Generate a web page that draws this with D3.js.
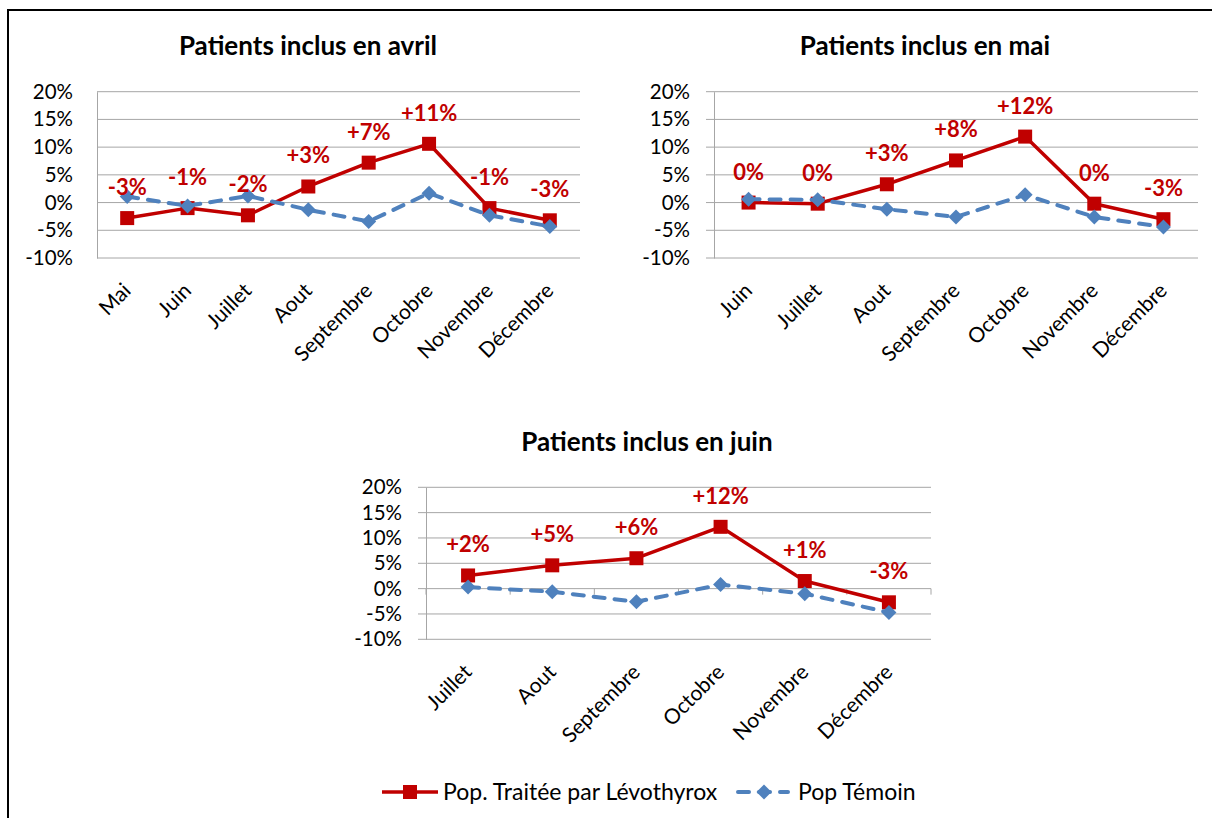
<!DOCTYPE html>
<html>
<head>
<meta charset="utf-8">
<title>Patients inclus</title>
<style>
  body { margin: 0; background: #fff; font-family: Lato, 'Open Sans', sans-serif; }
  .grid line { stroke: #a6a6a6; stroke-width: 1; }
  .tick text { fill: #000; }
</style>
</head>
<body>
<svg id="chart" width="1212" height="818"></svg>
<script src="https://d3js.org/d3.v7.min.js"></script>
<script>
// values in %
var catAvril = ["Mai", "Juin", "Juillet", "Aout", "Septembre", "Octobre", "Novembre", "Décembre"];
var traiteeAvril = [-2.8, -1.0, -2.3, 2.9, 7.2, 10.6, -1.0, -3.2];
var temoinAvril = [1.1, -0.6, 1.2, -1.3, -3.4, 1.7, -2.3, -4.3];
var labelsAvril = ["-3%", "-1%", "-2%", "+3%", "+7%", "+11%", "-1%", "-3%"];

var catMai = ["Juin", "Juillet", "Aout", "Septembre", "Octobre", "Novembre", "Décembre"];
var traiteeMai = [0.0, -0.2, 3.3, 7.6, 11.9, -0.2, -3.0];
var temoinMai = [0.6, 0.5, -1.2, -2.6, 1.4, -2.6, -4.4];
var labelsMai = ["0%", "0%", "+3%", "+8%", "+12%", "0%", "-3%"];

var catJuin = ["Juillet", "Aout", "Septembre", "Octobre", "Novembre", "Décembre"];
var traiteeJuin = [2.6, 4.6, 6.0, 12.2, 1.5, -2.7];
var temoinJuin = [0.3, -0.6, -2.6, 0.8, -1.0, -4.7];
var labelsJuin = ["+2%", "+5%", "+6%", "+12%", "+1%", "-3%"];

var yTicks = [-10, -5, 0, 5, 10, 15, 20];
var seriesNames = ["Pop. Traitée par Lévothyrox", "Pop Témoin"];

var red = "#c00000", blue = "#4f81bd";

var svg = d3.select("#chart");

// outer frame
svg.append("rect")
  .attr("x", 8).attr("y", 10)
  .attr("width", 1240).attr("height", 840)
  .attr("fill", "none").attr("stroke", "#000").attr("stroke-width", 2);

var diamond = function(cx, cy, r) {
  return "M" + cx + "," + (cy - r) + "L" + (cx + r) + "," + cy + "L" + cx + "," + (cy + r) + "L" + (cx - r) + "," + cy + "Z";
};

function drawPanel(p) {
  var x = d3.scalePoint().domain(p.cats).range([p.left, p.right]).padding(0.5);
  var y = d3.scaleLinear().domain([-10, 20]).range([p.bottom, p.top]);
  var g = svg.append("g");

  g.append("text")
    .attr("x", p.titleX).attr("y", p.titleY)
    .attr("text-anchor", "middle")
    .attr("font-size", 26).attr("font-weight", "bold")
    .text(p.title);

  // gridlines
  var grid = g.append("g").attr("class", "grid");
  grid.selectAll("line").data(yTicks).enter().append("line")
    .attr("x1", p.left - p.tickOut).attr("x2", p.right)
    .attr("y1", function(d) { return y(d); }).attr("y2", function(d) { return y(d); });

  // y axis
  var yAxis = d3.axisLeft(y).tickValues(yTicks).tickSize(0).tickPadding(24)
    .tickFormat(function(d) { return d + "%"; });
  var ga = g.append("g").attr("transform", "translate(" + p.left + ",0)").call(yAxis);
  ga.select(".domain").attr("stroke", "#a6a6a6");
  ga.selectAll("text").attr("font-size", 20.5).attr("font-family", "Lato, sans-serif");

  // tick marks on the zero line
  if (p.xTicks) {
    var step = x.step();
    var bounds = d3.range(p.cats.length + 1).map(function(i) { return p.left + i * step; });
    g.selectAll(".xt").data(bounds).enter().append("line")
      .attr("x1", function(d) { return d; }).attr("x2", function(d) { return d; })
      .attr("y1", y(0)).attr("y2", y(0) + 6)
      .attr("stroke", "#a6a6a6");
  }

  // category labels
  g.selectAll(".cat").data(p.cats).enter().append("text")
    .attr("transform", function(d) { return "translate(" + (x(d) + 5) + "," + (p.bottom + 34) + ") rotate(-45)"; })
    .attr("text-anchor", "end")
    .attr("font-size", 21)
    .text(function(d) { return d; });

  var line = d3.line()
    .x(function(d, i) { return x(p.cats[i]); })
    .y(function(d) { return y(d); });

  // treated population
  g.append("path").datum(p.traitee)
    .attr("d", line).attr("fill", "none")
    .attr("stroke", red).attr("stroke-width", 3.5).attr("stroke-linejoin", "round");
  g.selectAll(".sq").data(p.traitee).enter().append("rect")
    .attr("x", function(d, i) { return x(p.cats[i]) - 7; })
    .attr("y", function(d) { return y(d) - 7; })
    .attr("width", 14).attr("height", 14)
    .attr("fill", red);

  // control population
  g.append("path").datum(p.temoin)
    .attr("d", line).attr("fill", "none")
    .attr("stroke", blue).attr("stroke-width", 4)
    .attr("stroke-dasharray", "11,10").attr("stroke-linecap", "round");
  g.selectAll(".dm").data(p.temoin).enter().append("path")
    .attr("d", function(d, i) { return diamond(x(p.cats[i]), y(d), 7.5); })
    .attr("fill", blue);

  // data labels
  g.selectAll(".lbl").data(p.traitee).enter().append("text")
    .attr("x", function(d, i) { return x(p.cats[i]); })
    .attr("y", function(d) { return y(d) - 23; })
    .attr("text-anchor", "middle")
    .attr("font-size", 22).attr("font-weight", "bold")
    .attr("fill", red)
    .text(function(d, i) { return p.labels[i]; });
}

drawPanel({ title: "Patients inclus en avril", cats: catAvril, traitee: traiteeAvril, temoin: temoinAvril, labels: labelsAvril,
  left: 97, right: 580, top: 91.7, bottom: 258, titleX: 308, titleY: 55, tickOut: 0, xTicks: false });
drawPanel({ title: "Patients inclus en mai", cats: catMai, traitee: traiteeMai, temoin: temoinMai, labels: labelsMai,
  left: 714, right: 1198, top: 91.7, bottom: 258, titleX: 925, titleY: 55, tickOut: 8, xTicks: false });
drawPanel({ title: "Patients inclus en juin", cats: catJuin, traitee: traiteeJuin, temoin: temoinJuin, labels: labelsJuin,
  left: 426, right: 931, top: 487.3, bottom: 639.3, titleX: 647, titleY: 451, tickOut: 8, xTicks: true });

// legend
var lg = svg.append("g");
lg.append("line").attr("x1", 382).attr("x2", 438).attr("y1", 792).attr("y2", 792)
  .attr("stroke", red).attr("stroke-width", 3.5);
lg.append("rect").attr("x", 403).attr("y", 785).attr("width", 14).attr("height", 14).attr("fill", red);
lg.append("text").attr("x", 443).attr("y", 800).attr("font-size", 23).text(seriesNames[0]);

lg.append("line").attr("x1", 738).attr("x2", 788).attr("y1", 792).attr("y2", 792)
  .attr("stroke", blue).attr("stroke-width", 4)
  .attr("stroke-dasharray", "11,10").attr("stroke-linecap", "round");
lg.append("path").attr("d", diamond(764, 792, 7.5)).attr("fill", blue);
lg.append("text").attr("x", 798).attr("y", 800).attr("font-size", 23).text(seriesNames[1]);
</script>
</body>
</html>
